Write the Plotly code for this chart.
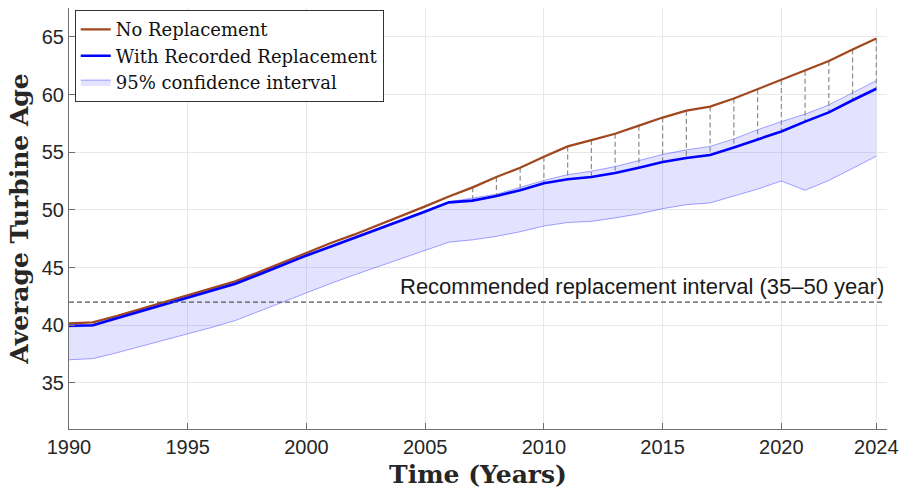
import plotly.graph_objects as go

years = list(range(1990, 2025))

no_replacement = [40.15, 40.25, 40.8, 41.4, 41.95, 42.6, 43.2, 43.8, 44.6, 45.45,
                  46.3, 47.1, 47.85, 48.65, 49.45, 50.3, 51.15, 51.95, 52.85, 53.65,
                  54.6, 55.5, 56.05, 56.6, 57.3, 58.0, 58.6, 58.95, 59.65, 60.45,
                  61.25, 62.05, 62.9, 63.9, 64.85]

with_replacement = [39.95, 40.0, 40.6, 41.2, 41.75, 42.4, 43.0, 43.6, 44.4, 45.25,
                    46.05, 46.8, 47.55, 48.3, 49.1, 49.85, 50.65, 50.8, 51.2, 51.7,
                    52.3, 52.65, 52.85, 53.2, 53.65, 54.15, 54.5, 54.75, 55.4, 56.1,
                    56.8, 57.65, 58.45, 59.5, 60.5]

ci_upper = [39.85, 39.9, 40.5, 41.1, 41.65, 42.3, 42.9, 43.5, 44.3, 45.15,
            45.95, 46.7, 47.45, 48.2, 49.0, 49.75, 50.7, 51.0, 51.35, 51.95,
            52.55, 53.05, 53.35, 53.75, 54.25, 54.8, 55.2, 55.5, 56.15, 56.95,
            57.65, 58.3, 59.1, 60.15, 61.2]

ci_lower = [37.0, 37.1, 37.6, 38.15, 38.65, 39.2, 39.8, 40.4, 41.2, 42.0,
            42.85, 43.6, 44.35, 45.05, 45.8, 46.5, 47.2, 47.4, 47.7, 48.1,
            48.6, 48.9, 49.0, 49.3, 49.65, 50.1, 50.45, 50.6, 51.2, 51.8,
            52.5, 51.7, 52.55, 53.6, 54.65]

gap_start_year = 2007
recommended_level = 42
recommended_label = "Recommended replacement interval (35–50 year)"

x_ticks = [1990, 1995, 2000, 2005, 2010, 2015, 2020, 2024]
y_ticks = [35, 40, 45, 50, 55, 60, 65]

# vertical dashed connectors between the two curves
vx, vy = [], []
for yr, a, b in zip(years, no_replacement, with_replacement):
    if yr >= gap_start_year:
        vx += [yr, yr, None]
        vy += [a, b, None]

fig = go.Figure()

fig.add_trace(go.Scatter(x=years, y=ci_lower, mode="lines",
                         line=dict(color="rgba(0,0,255,0.35)", width=1),
                         showlegend=False, hoverinfo="skip"))
fig.add_trace(go.Scatter(x=years, y=ci_upper, mode="lines", fill="tonexty",
                         fillcolor="rgba(0,0,255,0.11)",
                         line=dict(color="rgba(0,0,255,0.35)", width=1),
                         name="95% confidence interval", legendrank=3))
fig.add_trace(go.Scatter(x=vx, y=vy, mode="lines",
                         line=dict(color="#8c8c8c", width=1.2, dash="5px,3px"),
                         showlegend=False, hoverinfo="skip"))
fig.add_trace(go.Scatter(x=years, y=no_replacement, mode="lines",
                         line=dict(color="#A0471E", width=2.2),
                         name="No Replacement", legendrank=1))
fig.add_trace(go.Scatter(x=years, y=with_replacement, mode="lines",
                         line=dict(color="#0000FF", width=2.6),
                         name="With Recorded Replacement", legendrank=2))

fig.add_shape(type="line", xref="x", yref="y", x0=1990, x1=2024.3,
              y0=recommended_level, y1=recommended_level,
              line=dict(color="#555555", width=1.2, dash="5px,3px"))
fig.add_annotation(x=2024.4, y=recommended_level, xref="x", yref="y",
                   text=recommended_label, showarrow=False,
                   xanchor="right", yanchor="bottom", yshift=1,
                   font=dict(family="Liberation Sans, Arial", size=22, color="#1a1a1a"))

axis_common = dict(showgrid=True, gridcolor="#e8e8e8", gridwidth=1,
                   showline=True, linecolor="#707070", linewidth=1,
                   ticks="inside", ticklen=6, tickcolor="#707070",
                   tickfont=dict(family="Liberation Sans, Arial", size=20, color="#262626"),
                   zeroline=False, mirror=False, automargin=False)

fig.update_layout(
    width=899, height=490,
    margin=dict(l=69, r=12, t=8, b=61),
    paper_bgcolor="white", plot_bgcolor="white",
    xaxis=dict(range=[1990, 2024.45], tickvals=x_ticks,
               title=dict(text="<b>Time (Years)</b>", standoff=8,
                          font=dict(family="DejaVu Serif", size=25, color="#262626")),
               **axis_common),
    yaxis=dict(range=[31, 67.5], tickvals=y_ticks,
               title=dict(text="<b>Average Turbine Age</b>", standoff=6,
                          font=dict(family="DejaVu Serif", size=25, color="#262626")),
               **axis_common),
    legend=dict(x=0.007, y=0.995, xanchor="left", yanchor="top",
                bgcolor="white", bordercolor="#333333", borderwidth=1,
                font=dict(family="DejaVu Serif", size=18, color="#111111"),
                itemwidth=30, tracegroupgap=0, traceorder="normal"),
)

fig.write_html("out.html")
